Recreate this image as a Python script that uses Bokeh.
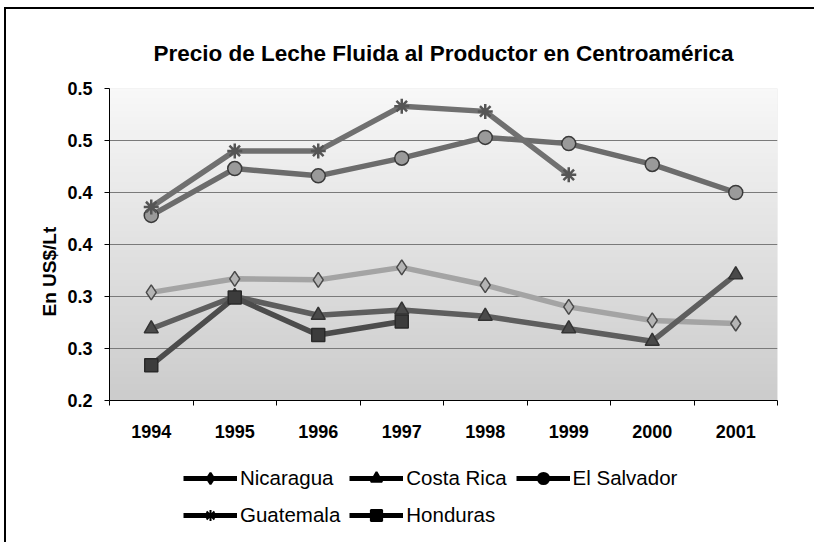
import numpy as np
from bokeh.plotting import figure
from bokeh.layouts import column
from bokeh.models import (FixedTicker, CustomJSTickFormatter, Legend, LegendItem,
                          Range1d, Title)
from bokeh.embed import file_html
from bokeh.resources import INLINE

# ---------------- data ----------------
years = ["1994", "1995", "1996", "1997", "1998", "1999", "2000", "2001"]
nicaragua = [0.304, 0.317, 0.316, 0.328, 0.311, 0.290, 0.277, 0.274]
costa_rica = [0.269, 0.300, 0.282, 0.287, 0.281, 0.269, 0.257, 0.321]
el_salvador = [0.378, 0.423, 0.416, 0.433, 0.453, 0.447, 0.427, 0.400]
guatemala = [0.386, 0.440, 0.440, 0.483, 0.478, 0.417]
honduras = [0.234, 0.299, 0.263, 0.276]
y_ticks = [0.20, 0.25, 0.30, 0.35, 0.40, 0.45, 0.50]

title_text = "Precio de Leche Fluida al Productor en Centroamérica"
y_label = "En US$/Lt"

FONT = "Liberation Sans"
n = len(years)
x_idx = list(range(n))
y_min, y_max = y_ticks[0], y_ticks[-1]

p = figure(width=808, height=439,
           x_range=Range1d(-0.5, n - 0.5), y_range=Range1d(y_min, y_max),
           output_backend="svg", toolbar_location=None,
           min_border_left=103, min_border_right=37,
           min_border_top=79, min_border_bottom=48,
           border_fill_color="white", background_fill_color="#e6e6e6",
           outline_line_color=None)

# gradient background of the plot area
rows = 96
t = np.linspace(0, 1, rows)  # 0 bottom -> 1 top
lo, hi = 0xCC, 0xF8
g = (lo + (hi - lo) * t).astype(np.uint32)
img = (255 << 24) | (g << 16) | (g << 8) | g
img = img.reshape(rows, 1).astype(np.uint32)
bg = p.image_rgba(image=[img], x=-0.5, y=y_min, dw=n, dh=y_max - y_min)
bg.level = "image"

# title
p.title.text = title_text
p.title.text_font = FONT
p.title.text_font_size = "22.5px"
p.title.text_font_style = "bold"
p.title.align = "center"
p.title.text_color = "black"
p.title.standoff = 46

# y axis
yax = p.yaxis[0]
yax.ticker = FixedTicker(ticks=y_ticks)
yax.formatter = CustomJSTickFormatter(code="return (Math.round(tick*10 + 1e-6)/10).toFixed(1);")
yax.major_tick_out = 5
yax.major_tick_in = 0
yax.minor_tick_out = 0
yax.minor_tick_in = 0
yax.axis_line_color = "black"
yax.major_tick_line_color = "black"
yax.major_label_standoff = 12
yax.major_label_text_font = FONT
yax.major_label_text_font_size = "18px"
yax.major_label_text_font_style = "bold"
yax.major_label_text_color = "black"

ylab = Title(text=y_label, align="left", offset=84, text_font=FONT,
             text_font_size="19px", text_font_style="bold", text_color="black")
p.add_layout(ylab, "left")

# x axis: labels at category centres, ticks between categories
xax = p.xaxis[0]
xax.ticker = FixedTicker(ticks=x_idx, minor_ticks=[i - 0.5 for i in range(n + 1)])
xax.major_label_overrides = {i: years[i] for i in x_idx}
xax.major_tick_out = 0
xax.major_tick_in = 0
xax.minor_tick_out = 5
xax.minor_tick_in = 0
xax.minor_tick_line_color = "black"
xax.axis_line_color = "black"
xax.major_label_standoff = 19
xax.major_label_text_font = FONT
xax.major_label_text_font_size = "18px"
xax.major_label_text_font_style = "bold"
xax.major_label_text_color = "black"

p.xgrid.visible = False
p.ygrid.grid_line_color = "#7a7a7a"
p.ygrid.grid_line_width = 1

# legend figure below the chart
lf = figure(width=808, height=94, x_range=Range1d(0, 1), y_range=Range1d(0, 1),
            output_backend="svg", toolbar_location=None,
            x_axis_location=None, y_axis_location=None,
            min_border_left=0, min_border_right=0, min_border_top=0, min_border_bottom=0,
            border_fill_color="white", background_fill_color="white",
            outline_line_color=None)
lf.xgrid.visible = False
lf.ygrid.visible = False

# series
series = [
    ("Nicaragua", nicaragua, "diamond", "#a4a4a4", "#b4b4b4", "#4a4a4a", 15),
    ("Costa Rica", costa_rica, "triangle", "#5e5e5e", "#4a4a4a", "#333333", 14),
    ("El Salvador", el_salvador, "circle", "#6c6c6c", "#9a9a9a", "#3a3a3a", 14),
    ("Guatemala", guatemala, "asterisk", "#707070", "#555555", "#555555", 15),
    ("Honduras", honduras, "square", "#4c4c4c", "#3c3c3c", "#2a2a2a", 13),
]

items = []
for name, vals, marker, lc, fc, mc, ms in series:
    xs = x_idx[:len(vals)]
    p.line(xs, vals, line_color=lc, line_width=5.5, line_join="round")
    p.scatter(xs, vals, marker=marker, size=ms, fill_color=fc, line_color=mc,
              line_width=2.5 if marker == "asterisk" else 1.5)
    # black legend swatches (hidden placeholder glyphs), as in the reference
    lr = lf.line(x=[np.nan], y=[np.nan], line_color="black", line_width=5)
    sr = lf.scatter(x=[np.nan], y=[np.nan], marker=marker, fill_color="black",
                    line_color="black", line_width=2)
    items.append(LegendItem(label=name, renderers=[lr, sr]))

legend = Legend(items=items, ncols=3, orientation="horizontal",
                location=(74, 13),
                border_line_color=None, background_fill_alpha=0,
                label_text_font=FONT, label_text_font_size="20.5px",
                label_text_color="black",
                glyph_width=54, glyph_height=28, label_standoff=3,
                spacing=9, padding=0, margin=0)
lf.add_layout(legend, "center")

layout = column(p, lf, spacing=0)
layout.styles = {"border-left": "2px solid black", "border-top": "2px solid black",
                 "margin-left": "4px", "margin-top": "7px"}

open("out.html", "w").write(file_html(layout, INLINE))
